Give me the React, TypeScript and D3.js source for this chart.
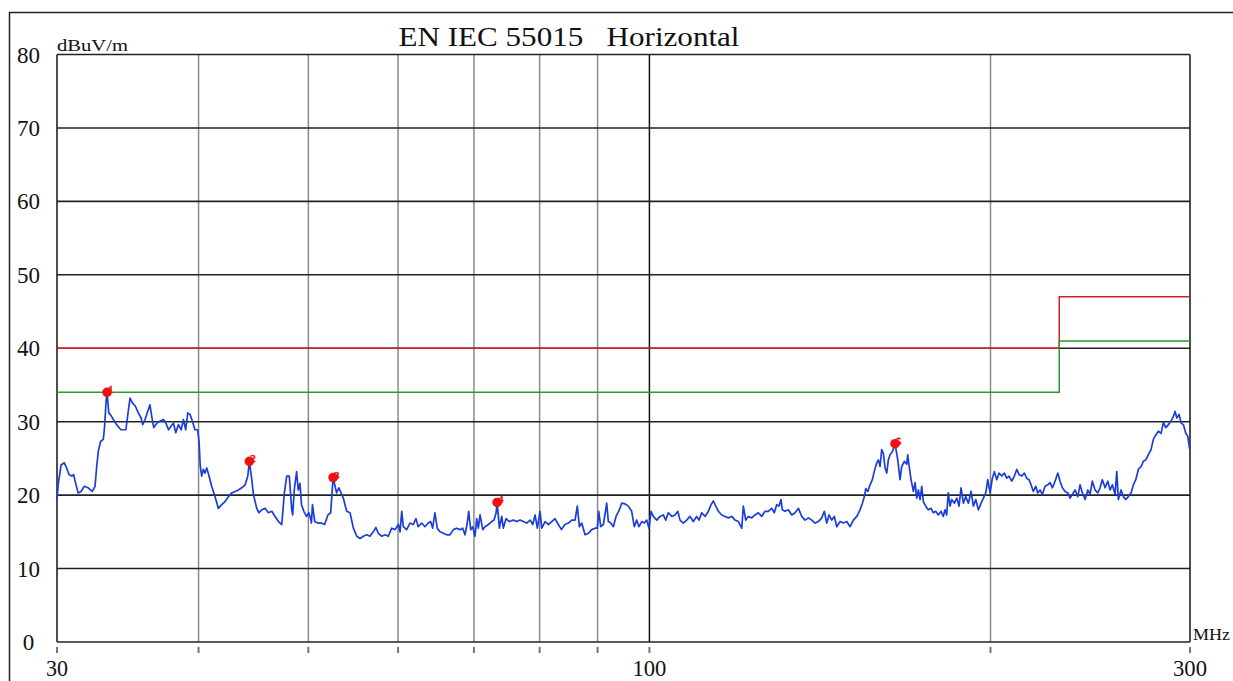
import React from 'react';
import * as d3 from 'd3';

// Measured trace: [frequency MHz, level dBuV/m]
const traceData: [number, number][] = [
  [30.00, 19.4], [30.08, 21.6], [30.25, 24.1], [30.45, 24.4], [30.59, 23.7], [30.74, 22.8],
  [30.91, 22.6], [31.03, 22.8], [31.16, 21.6], [31.32, 20.3], [31.50, 20.5], [31.71, 21.2],
  [31.96, 21.0], [32.23, 20.5], [32.41, 21.2], [32.52, 23.9], [32.63, 26.0], [32.78, 27.3],
  [32.96, 27.6], [33.05, 29.4], [33.14, 32.6], [33.21, 34.0], [33.33, 31.2], [33.46, 30.9],
  [33.64, 30.3], [33.86, 29.6], [34.16, 28.9], [34.51, 28.9], [34.66, 31.2], [34.80, 33.2],
  [34.96, 32.6], [35.18, 32.1], [35.39, 31.2], [35.59, 30.5], [35.71, 29.6], [35.88, 30.3],
  [36.07, 31.4], [36.24, 32.3], [36.37, 30.7], [36.52, 29.2], [36.75, 29.8], [37.00, 30.1],
  [37.25, 30.3], [37.43, 29.8], [37.63, 28.9], [37.83, 29.4], [38.01, 29.8], [38.19, 28.5],
  [38.40, 29.6], [38.61, 28.9], [38.79, 30.3], [38.97, 28.9], [39.13, 31.2], [39.31, 31.0],
  [39.50, 30.1], [39.71, 28.9], [39.93, 28.9], [40.04, 27.3], [40.14, 23.9], [40.26, 22.6],
  [40.39, 23.5], [40.53, 23.0], [40.67, 23.7], [40.86, 22.6], [41.08, 21.2], [41.36, 19.8],
  [41.64, 18.2], [41.93, 18.7], [42.21, 19.1], [42.50, 19.8], [42.79, 20.3], [43.08, 20.5],
  [43.37, 20.7], [43.67, 21.0], [43.97, 21.4], [44.21, 22.6], [44.35, 24.6], [44.57, 22.1],
  [44.72, 20.1], [45.02, 18.2], [45.23, 17.6], [45.48, 18.0], [45.79, 18.2], [46.10, 17.6],
  [46.42, 17.8], [46.73, 17.1], [47.05, 16.4], [47.37, 16.0], [47.62, 20.3], [47.85, 22.6],
  [48.10, 22.6], [48.34, 18.0], [48.43, 17.3], [48.59, 20.7], [48.82, 23.2], [48.98, 20.7],
  [49.15, 21.6], [49.31, 18.7], [49.54, 17.8], [49.81, 17.1], [50.05, 17.6], [50.21, 16.9],
  [50.31, 16.2], [50.42, 18.7], [50.65, 16.4], [50.99, 16.2], [51.34, 16.2], [51.68, 16.0],
  [52.03, 17.3], [52.32, 17.6], [52.58, 22.4], [52.95, 20.3], [53.20, 21.0], [53.68, 19.6],
  [54.05, 17.8], [54.42, 17.6], [54.79, 15.5], [55.17, 14.4], [55.54, 14.1], [55.91, 14.4],
  [56.30, 14.6], [56.67, 14.4], [57.05, 15.0], [57.36, 15.6], [57.63, 14.8], [58.04, 14.4],
  [58.43, 14.6], [58.82, 14.4], [59.23, 15.5], [59.63, 15.3], [60.04, 16.0], [60.24, 15.0],
  [60.45, 17.8], [60.64, 15.7], [61.06, 15.3], [61.47, 16.2], [61.88, 16.0], [62.22, 16.8],
  [62.51, 15.7], [62.95, 16.2], [63.37, 15.7], [63.80, 16.2], [64.11, 16.4], [64.37, 15.5],
  [64.67, 17.6], [64.97, 15.5], [65.34, 15.0], [65.78, 14.8], [66.23, 14.6], [66.68, 14.6],
  [67.13, 15.3], [67.59, 15.5], [68.05, 15.3], [68.42, 15.5], [68.74, 14.6], [69.06, 16.2],
  [69.26, 17.8], [69.54, 15.3], [69.83, 15.7], [70.16, 14.4], [70.40, 16.8], [70.63, 15.5],
  [70.88, 17.3], [71.27, 15.3], [71.60, 15.7], [72.09, 16.0], [72.58, 16.4], [72.92, 16.6],
  [73.23, 17.6], [73.38, 19.0], [73.72, 15.5], [74.07, 17.1], [74.31, 15.5], [74.72, 16.8],
  [75.22, 16.4], [75.83, 16.6], [76.36, 16.4], [76.88, 16.6], [77.40, 16.4], [77.93, 16.2],
  [78.46, 16.6], [78.89, 16.0], [79.26, 17.3], [79.63, 15.5], [80.07, 17.8], [80.35, 15.5],
  [80.89, 16.4], [81.44, 16.0], [81.99, 16.4], [82.54, 16.8], [83.10, 16.0], [83.63, 15.3],
  [84.22, 16.0], [84.81, 16.2], [85.40, 16.6], [85.97, 16.6], [86.37, 18.5], [86.73, 15.7],
  [87.15, 16.2], [87.74, 14.6], [88.33, 14.8], [88.93, 15.3], [89.54, 15.5], [89.96, 15.5],
  [90.21, 17.8], [90.58, 15.7], [91.07, 16.0], [91.69, 18.9], [91.99, 16.4], [92.45, 16.2],
  [92.93, 15.7], [93.44, 17.1], [94.07, 18.0], [94.53, 18.9], [95.17, 18.8], [95.82, 18.5],
  [96.46, 17.8], [96.97, 15.7], [97.44, 16.6], [97.90, 15.7], [98.45, 16.4], [98.97, 16.2],
  [99.44, 16.6], [99.92, 15.5], [100.33, 17.8], [100.80, 17.1], [101.50, 16.6], [102.18, 17.1],
  [102.87, 17.3], [103.37, 16.6], [103.92, 17.6], [104.64, 17.1], [105.35, 17.3], [105.93, 17.8],
  [106.42, 16.6], [107.13, 16.2], [107.87, 16.6], [108.60, 17.1], [109.33, 16.4], [110.08, 17.1],
  [110.61, 16.6], [111.21, 17.6], [111.97, 17.1], [112.73, 17.8], [113.35, 18.7], [113.88, 19.2],
  [114.44, 18.5], [115.04, 17.8], [115.83, 17.3], [116.62, 17.1], [117.41, 16.9], [118.21, 17.1],
  [119.01, 16.6], [119.81, 16.4], [120.64, 15.5], [121.03, 18.5], [121.63, 16.6], [122.27, 17.1],
  [123.12, 16.9], [123.94, 17.3], [124.77, 17.6], [125.63, 17.1], [126.48, 17.8], [127.33, 17.8],
  [128.21, 18.2], [128.89, 17.6], [129.52, 18.7], [130.13, 18.5], [130.66, 19.4], [131.01, 18.0],
  [131.73, 17.8], [132.62, 18.0], [133.55, 17.3], [134.45, 17.6], [135.36, 18.2], [136.29, 17.1],
  [137.20, 16.6], [138.13, 16.9], [139.08, 16.6], [140.02, 16.2], [140.97, 16.4], [141.94, 16.9],
  [142.69, 17.8], [143.38, 16.2], [144.06, 17.3], [144.85, 16.6], [145.62, 17.1], [146.33, 15.7],
  [147.32, 16.4], [148.31, 16.2], [149.34, 16.4], [150.34, 15.7], [151.37, 16.6], [152.42, 17.1],
  [153.43, 18.0], [154.16, 18.9], [154.79, 19.8], [155.23, 20.9], [155.87, 20.5], [156.58, 21.4],
  [157.31, 22.1], [157.96, 23.3], [158.73, 24.4], [159.25, 24.8], [159.79, 23.9], [160.34, 26.2],
  [160.87, 25.7], [161.43, 23.7], [161.98, 23.0], [162.51, 24.8], [163.07, 25.5], [163.83, 25.9],
  [164.74, 27.0], [165.65, 24.8], [166.42, 22.1], [167.00, 23.9], [167.88, 24.6], [168.70, 24.2],
  [169.04, 25.5], [169.50, 24.0], [170.19, 22.1], [170.99, 20.5], [171.58, 21.7], [172.17, 19.6],
  [172.74, 20.7], [173.33, 19.4], [173.92, 21.2], [174.49, 19.1], [175.34, 18.5], [176.27, 18.0],
  [177.24, 18.2], [178.07, 17.6], [178.93, 17.8], [179.88, 17.3], [180.87, 17.8], [181.71, 17.1],
  [182.33, 18.0], [182.96, 17.3], [183.56, 20.3], [184.23, 18.5], [184.86, 19.4], [185.84, 18.9],
  [186.75, 19.6], [187.62, 18.5], [188.39, 21.0], [189.27, 18.9], [190.19, 19.8], [191.21, 18.9],
  [192.26, 20.5], [193.16, 18.5], [194.11, 19.4], [195.14, 18.0], [196.21, 18.9], [197.13, 19.6],
  [198.09, 20.3], [198.89, 22.1], [199.83, 20.3], [200.77, 22.3], [201.59, 23.2], [202.57, 22.1],
  [203.52, 23.0], [204.64, 22.6], [205.72, 23.0], [206.73, 22.3], [207.69, 22.6], [208.83, 21.9],
  [209.94, 22.6], [210.96, 23.5], [211.96, 22.8], [213.12, 22.6], [214.25, 23.0], [215.29, 22.3],
  [216.31, 22.1], [217.19, 21.4], [218.21, 20.5], [219.28, 21.2], [220.17, 20.3], [221.20, 20.7],
  [222.24, 20.1], [223.47, 21.2], [224.70, 21.4], [225.74, 21.7], [226.81, 21.0], [228.06, 21.9],
  [229.32, 23.0], [230.38, 21.9], [231.46, 21.0], [232.75, 20.5], [234.03, 20.3], [235.11, 19.6],
  [236.22, 20.1], [237.53, 20.7], [238.83, 19.8], [239.94, 21.4], [241.07, 20.3], [242.41, 19.4],
  [243.75, 20.7], [244.86, 20.1], [246.00, 21.9], [247.36, 20.7], [248.73, 20.3], [249.89, 21.0],
  [251.06, 22.1], [252.46, 21.0], [253.87, 21.9], [255.02, 20.7], [256.22, 21.4], [257.62, 20.1],
  [258.51, 23.2], [259.36, 19.4], [260.78, 20.7], [262.00, 19.8], [263.28, 19.4], [264.67, 19.8],
  [266.13, 20.3], [267.38, 21.4], [268.69, 22.1], [270.12, 23.5], [271.60, 23.9], [272.88, 24.6],
  [274.22, 24.8], [275.68, 25.5], [277.18, 26.2], [278.47, 27.6], [279.85, 28.2], [281.34, 28.7],
  [282.87, 28.4], [284.21, 29.9], [285.60, 29.2], [287.11, 29.6], [288.68, 30.1], [290.04, 30.7],
  [291.06, 31.4], [292.07, 30.5], [293.44, 31.0], [294.63, 29.8], [296.02, 29.6], [297.47, 28.4],
  [298.69, 28.0], [299.66, 26.4], [300.00, 26.6],
];

const limitFreq = [30, 230, 230, 300];
const limitRedLevel = [40, 40, 47, 47];
const limitGreenLevel = [34, 34, 41, 41];

const markerFreq = [33.21, 44.35, 52.58, 73.38, 164.74];
const markerLevel = [34.0, 24.6, 22.4, 19.0, 27.0];
const markerLabel = ['1', '2', '3', '4', '5'];

const yTicks = [0, 10, 20, 30, 40, 50, 60, 70, 80];
const xGridGray = [40, 50, 60, 70, 80, 90, 200];
const xGridBlack = [100];
const xTickMarks = [30, 40, 50, 60, 70, 80, 90, 100, 200, 300];
const xLabels = [30, 100, 300];

const TITLE = 'EN IEC 55015   Horizontal';
const Y_UNIT = 'dBuV/m';
const X_UNIT = 'MHz';

export default function App() {
  const W = 1233, H = 681;
  const left = 57, right = 1190, top = 54.5, bottom = 642;
  const x = d3.scaleLog().domain([30, 300]).range([left, right]);
  const y = d3.scaleLinear().domain([0, 80]).range([bottom, top]);

  const line = d3.line<[number, number]>().x(d => x(d[0])).y(d => y(d[1]));
  const redPts: [number, number][] = limitFreq.map((f, i) => [f, limitRedLevel[i]]);
  const greenPts: [number, number][] = limitFreq.map((f, i) => [f, limitGreenLevel[i]]);

  const serif = '"Liberation Serif", "Times New Roman", serif';

  return (
    <svg width={W} height={H} style={{ position: 'absolute', left: 0, top: 0, background: '#fff' }}>
      <rect x={0} y={0} width={W} height={H} fill="#fff" />
      {/* outer border */}
      <line x1={9} y1={12.5} x2={W} y2={12.5} stroke="#222" strokeWidth={1.5} />
      <line x1={9.5} y1={12} x2={9.5} y2={H} stroke="#222" strokeWidth={1.5} />

      {/* vertical grid */}
      {xGridGray.map(f => (
        <line key={'vg' + f} x1={x(f)} x2={x(f)} y1={top} y2={bottom} stroke="#8a8a8a" strokeWidth={1.5} />
      ))}
      {xGridBlack.map(f => (
        <line key={'vb' + f} x1={x(f)} x2={x(f)} y1={top} y2={bottom} stroke="#111" strokeWidth={1.5} />
      ))}
      {/* horizontal grid */}
      {yTicks.map(v => (
        <line key={'h' + v} x1={left} x2={right} y1={y(v)} y2={y(v)} stroke="#222" strokeWidth={1.6} />
      ))}
      {/* frame */}
      <line x1={left} x2={left} y1={top} y2={bottom} stroke="#222" strokeWidth={1.6} />
      <line x1={right} x2={right} y1={top} y2={bottom} stroke="#222" strokeWidth={1.6} />

      {/* tick marks under axis */}
      {xTickMarks.map(f => (
        <line key={'t' + f} x1={x(f)} x2={x(f)} y1={647} y2={653} stroke="#777" strokeWidth={2} />
      ))}

      {/* limit lines */}
      <path d={line(redPts) || ''} fill="none" stroke="#d02020" strokeWidth={1.5} />
      <path d={line(greenPts) || ''} fill="none" stroke="#2a9a2a" strokeWidth={1.5} />

      {/* trace */}
      <path d={line(traceData) || ''} fill="none" stroke="#1c3ed8" strokeWidth={1.7} strokeLinejoin="round" />

      {/* markers */}
      {markerFreq.map((f, i) => (
        <g key={'m' + i}>
          <circle cx={x(f)} cy={y(markerLevel[i])} r={4.8} fill="#f01010" />
          <text x={x(f) + 1} y={y(markerLevel[i]) + 1} fontSize={11} fontFamily={serif}
            fontWeight="bold" fill="#f01010" stroke="#f01010" strokeWidth={0.3}>{markerLabel[i]}</text>
        </g>
      ))}

      {/* y labels */}
      {yTicks.map(v => (
        <text key={'yl' + v} x={28.5} y={y(v) + 8} textAnchor="middle" fontSize={23} fontFamily={serif} fill="#111">{v}</text>
      ))}
      {/* x labels */}
      {xLabels.map(f => (
        <text key={'xl' + f} x={x(f)} y={676} textAnchor="middle" fontSize={23} fontFamily={serif} fill="#111"
          textLength={f >= 100 ? 34 : 22} lengthAdjust="spacingAndGlyphs">{f}</text>
      ))}
      <text x={1193} y={640} fontSize={17} fontFamily={serif} fill="#111" textLength={37} lengthAdjust="spacingAndGlyphs">{X_UNIT}</text>
      <text x={57} y={51} fontSize={17} fontFamily={serif} fill="#111" textLength={71} lengthAdjust="spacingAndGlyphs">{Y_UNIT}</text>
      <text x={398.5} y={46} fontSize={28} fontFamily={serif} fill="#111" style={{ whiteSpace: 'pre' }}
        textLength={341} lengthAdjust="spacingAndGlyphs">{TITLE}</text>
    </svg>
  );
}
